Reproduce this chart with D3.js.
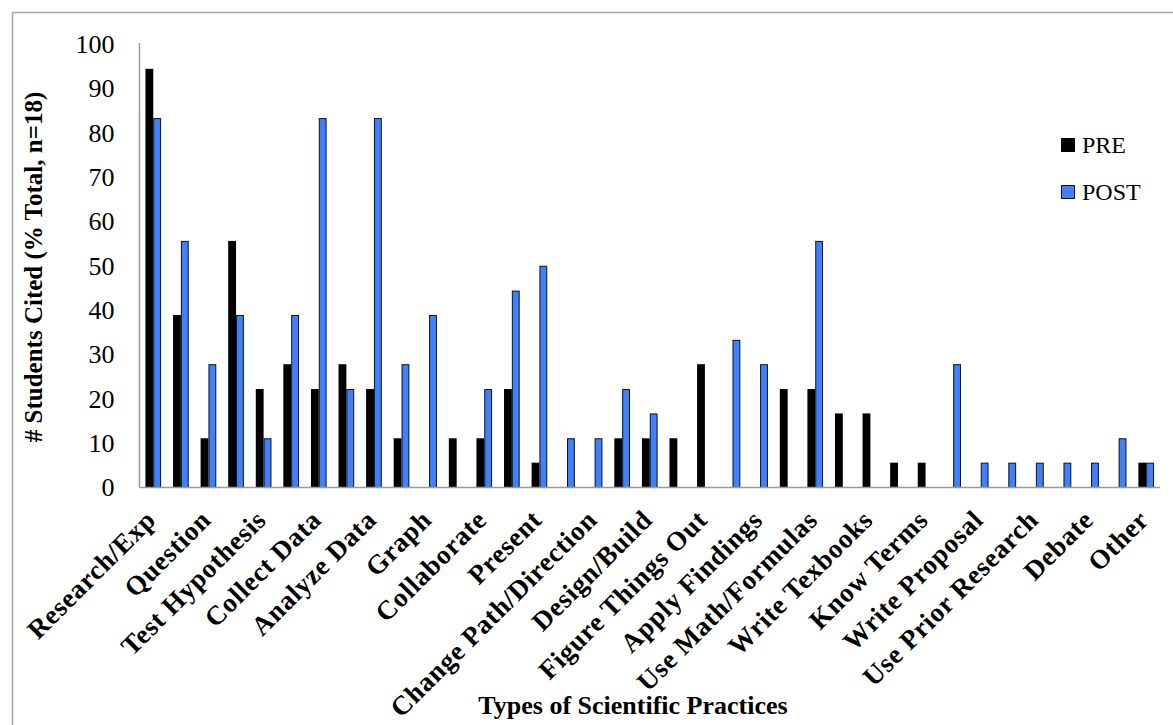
<!DOCTYPE html>
<html>
<head>
<meta charset="utf-8">
<script src="https://cdn.jsdelivr.net/npm/d3@7"></script>
<style>
  html, body { margin: 0; padding: 0; background: #fff; }
  svg { display: block; }
</style>
</head>
<body>
<svg id="chart" width="1173" height="725"></svg>
<script>
// Practice labels (printed on every other category slot)
const categories = [
  "Research/Exp", "Question", "Test Hypothesis", "Collect Data", "Analyze Data",
  "Graph", "Collaborate", "Present", "Change Path/Direction", "Design/Build",
  "Figure Things Out", "Apply Findings", "Use Math/Formulas", "Write Texbooks",
  "Know Terms", "Write Proposal", "Use Prior Research", "Debate", "Other"
];

// % of students citing each practice, one entry per category slot
const preValues = [
  94.4, 38.9, 11.1, 55.6, 22.2, 27.8, 22.2, 27.8, 22.2, 11.1,
  0, 11.1, 11.1, 22.2, 5.6, 0, 0, 11.1, 11.1, 11.1,
  27.8, 0, 0, 22.2, 22.2, 16.7, 16.7, 5.6, 5.6, 0,
  0, 0, 0, 0, 0, 0, 5.6
];
const postValues = [
  83.3, 55.6, 27.8, 38.9, 11.1, 38.9, 83.3, 22.2, 83.3, 27.8,
  38.9, 0, 22.2, 44.4, 50.0, 11.1, 11.1, 22.2, 16.7, 0,
  0, 33.3, 27.8, 0, 55.6, 0, 0, 0, 0, 27.8,
  5.6, 5.6, 5.6, 5.6, 5.6, 11.1, 5.6
];

const seriesNames = ["PRE", "POST"];
const yTicks = [0, 10, 20, 30, 40, 50, 60, 70, 80, 90, 100];

const FONT = "'Liberation Serif', 'Times New Roman', serif";
const svg = d3.select("#chart");

// chart frame
svg.append("rect")
  .attr("x", 12.5).attr("y", 12.5)
  .attr("width", 1200).attr("height", 800)
  .attr("fill", "#fff")
  .attr("stroke", "#a6a6a6").attr("stroke-width", 1.5);

const plot = { left: 139.5, right: 1160, top: 44, bottom: 487.5 };

const slots = d3.range(preValues.length);
const x = d3.scaleBand().domain(slots).range([plot.left, plot.right]).paddingInner(0).paddingOuter(0);
const xSub = d3.scaleBand().domain(seriesNames).range([0, x.bandwidth()]).paddingInner(0).paddingOuter(0.76);
const y = d3.scaleLinear().domain([0, 100]).range([plot.bottom, plot.top]);

const colors = { PRE: "#000000", POST: "#4080ff" };

// bars
const rows = slots.map(i => ({ i, PRE: preValues[i], POST: postValues[i] }));
const groups = svg.append("g").selectAll("g")
  .data(rows).join("g")
  .attr("transform", d => `translate(${x(d.i)},0)`);

groups.selectAll("rect")
  .data(d => seriesNames.map(k => ({ k, v: d[k] })).filter(e => e.v > 0))
  .join("rect")
  .attr("x", e => xSub(e.k) + (e.k === "POST" ? 0.5 : 0))
  .attr("width", e => xSub.bandwidth() - (e.k === "POST" ? 1 : 0))
  .attr("y", e => y(e.v) + (e.k === "POST" ? 0.5 : 0))
  .attr("height", e => y(0) - y(e.v) - (e.k === "POST" ? 0.5 : 0))
  .attr("fill", e => colors[e.k])
  .attr("stroke", e => e.k === "POST" ? "#111" : "none")
  .attr("stroke-width", 1);

// y axis
const yAxis = svg.append("g")
  .attr("transform", `translate(${plot.left},0)`)
  .call(d3.axisLeft(y).tickValues(yTicks).tickSize(0).tickPadding(25));
yAxis.select(".domain").attr("stroke", "#9a9a9a").attr("stroke-width", 1.5)
  .attr("d", `M0,${plot.top - 1}V${plot.bottom}`);
yAxis.selectAll("text")
  .attr("font-family", FONT).attr("font-size", 26).attr("fill", "#000");

// x axis: every other slot carries a label
const labelled = slots.filter(i => i % 2 === 0);
const xAxis = svg.append("g")
  .attr("transform", `translate(0,${plot.bottom})`)
  .call(d3.axisBottom(x).tickValues(labelled).tickSize(0).tickFormat(i => categories[i / 2]));
xAxis.select(".domain").attr("stroke", "#9a9a9a").attr("stroke-width", 1.5)
  .attr("d", `M${plot.left},0H${plot.right}`);
xAxis.selectAll(".tick text")
  .attr("font-family", FONT).attr("font-size", 27).attr("font-weight", "bold").attr("fill", "#000")
  .attr("letter-spacing", 0.7)
  .attr("text-anchor", "end")
  .attr("dy", null).attr("y", null)
  .attr("transform", "translate(4,34) rotate(-45)");

// axis titles
svg.append("text")
  .attr("x", 633).attr("y", 714)
  .attr("text-anchor", "middle")
  .attr("font-family", FONT).attr("font-size", 26).attr("font-weight", "bold")
  .text("Types of Scientific Practices");

svg.append("text")
  .attr("transform", "translate(42,267) rotate(-90)")
  .attr("text-anchor", "middle")
  .attr("font-family", FONT).attr("font-size", 25).attr("font-weight", "bold")
  .text("# Students Cited (% Total, n=18)");

// legend
const legend = svg.append("g").attr("transform", "translate(1061,138)");
const li = legend.selectAll("g").data(seriesNames).join("g")
  .attr("transform", (d, i) => `translate(0,${i * 47})`);
li.append("rect")
  .attr("x", d => d === "POST" ? 0.5 : 0).attr("y", d => d === "POST" ? 0.5 : 0)
  .attr("width", d => d === "POST" ? 13 : 14).attr("height", d => d === "POST" ? 13 : 14)
  .attr("fill", d => colors[d])
  .attr("stroke", d => d === "POST" ? "#111" : "none");
li.append("text")
  .attr("x", 21).attr("y", 15)
  .attr("font-family", FONT).attr("font-size", 24).attr("fill", "#000")
  .text(d => d);
</script>
</body>
</html>
